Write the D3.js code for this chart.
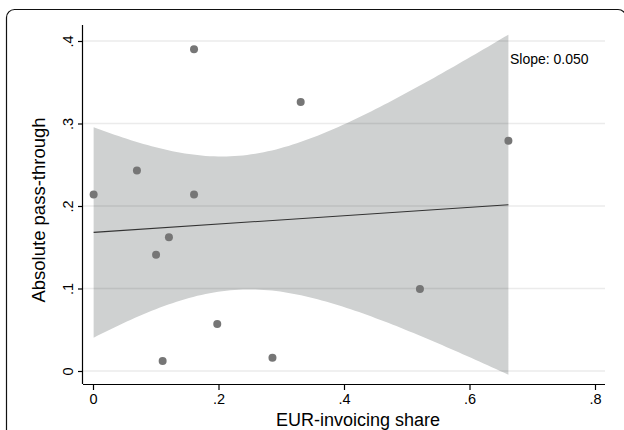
<!DOCTYPE html>
<html>
<head>
<meta charset="utf-8">
<script src="https://cdn.jsdelivr.net/npm/d3@7"></script>
<style>
  body { margin: 0; background: #fff; }
  svg { font-family: "Liberation Sans", Arial, sans-serif; }
</style>
</head>
<body>
<div id="chart"></div>
<script>
// EUR-invoicing share vs absolute pass-through, one point per observation
const eurShare = [0.001, 0.070, 0.161, 0.161, 0.331, 0.662, 0.121, 0.1005, 0.198, 0.111, 0.286, 0.521]
const passThrough = [0.214, 0.243, 0.390, 0.214, 0.326, 0.279, 0.162, 0.141, 0.057, 0.012, 0.016, 0.0995]

const xTicks = [0, 0.2, 0.4, 0.6, 0.8]
const yTicks = [0, 0.1, 0.2, 0.3, 0.4]
const xTickLabels = ['0', '.2', '.4', '.6', '.8']
const yTickLabels = ['0', '.1', '.2', '.3', '.4']

const xTitle = 'EUR-invoicing share'
const yTitle = 'Absolute pass-through'
const slopeLabel = 'Slope: 0.050'
const tCrit = 2.228 // t(0.975, df = 10)

const width = 624
const height = 430
const axeColor = '#000'
const gridColor = 'rgba(0,0,0,0.08)'
const bandColor = '#cfd1d1'
const pointColor = '#767676'

const plotLeft = 83
const plotRight = 605
const plotTop = 25
const plotBottom = 384

const svg = d3.select('#chart')
  .append('svg')
    .attr('width', width)
    .attr('height', height)

// outer frame (rounded, runs past the bottom/right edge)
svg.append('rect')
  .attr('x', 6.5)
  .attr('y', 9.5)
  .attr('width', 619.5)
  .attr('height', 470)
  .attr('rx', 8)
  .attr('fill', 'none')
  .attr('stroke', '#111')
  .attr('stroke-width', 1.2)

const x = d3.scaleLinear()
  .domain([0, 0.8])
  .range([93, 595])

const y = d3.scaleLinear()
  .domain([0, 0.4])
  .range([371, 41])

// linear fit + 95% CI of the mean
const n = eurShare.length
const xMean = d3.mean(eurShare)
const yMean = d3.mean(passThrough)
const sxx = d3.sum(eurShare, d => (d - xMean) ** 2)
const sxy = d3.sum(eurShare, (d, i) => (d - xMean) * (passThrough[i] - yMean))
const slope = sxy / sxx
const intercept = yMean - slope * xMean
const ssr = d3.sum(eurShare, (d, i) => (passThrough[i] - intercept - slope * d) ** 2)
const s = Math.sqrt(ssr / (n - 2))
const fit = v => intercept + slope * v
const halfWidth = v => tCrit * s * Math.sqrt(1 / n + (v - xMean) ** 2 / sxx)

const [xMin, xMax] = d3.extent(eurShare)
const bandX = d3.range(0, 101).map(i => xMin + (xMax - xMin) * i / 100)

svg.append('path')
  .datum(bandX)
  .attr('fill', bandColor)
  .attr('d', d3.area()
    .x(d => x(d))
    .y0(d => y(fit(d) - halfWidth(d)))
    .y1(d => y(fit(d) + halfWidth(d)))
  )

// gridlines
svg.append('g')
  .selectAll('line')
  .data(yTicks)
  .join('line')
    .attr('x1', plotLeft)
    .attr('x2', plotRight)
    .attr('y1', d => y(d))
    .attr('y2', d => y(d))
    .attr('stroke', gridColor)
    .attr('stroke-width', 1.5)

// fit line
svg.append('line')
  .attr('x1', x(xMin))
  .attr('x2', x(xMax))
  .attr('y1', y(fit(xMin)))
  .attr('y2', y(fit(xMax)))
  .attr('stroke', '#333')
  .attr('stroke-width', 1.1)

// points
svg.append('g')
  .selectAll('circle')
  .data(eurShare)
  .join('circle')
    .attr('cx', d => x(d))
    .attr('cy', (d, i) => y(passThrough[i]))
    .attr('r', 4)
    .attr('fill', pointColor)

// x axis
const xAxis = svg.append('g')
  .attr('transform', `translate(0,${plotBottom})`)
  .call(d3.axisBottom(x)
    .tickValues(xTicks)
    .tickFormat((d, i) => xTickLabels[i])
    .tickSize(6)
    .tickSizeOuter(0)
  )
xAxis.select('.domain')
  .attr('d', `M${plotLeft},0.5H${plotRight}`)
  .attr('stroke', axeColor)
  .attr('stroke-width', 1.2)
xAxis.selectAll('.tick line').attr('stroke', axeColor).attr('stroke-width', 1.2)
xAxis.selectAll('.tick text')
  .attr('fill', axeColor)
  .attr('font-size', 14.5)
  .attr('font-family', '"Liberation Sans", Arial, sans-serif')
  .attr('y', 19.5)
  .attr('dy', 0)

// y axis
const yAxis = svg.append('g')
  .attr('transform', `translate(${plotLeft},0)`)
  .call(d3.axisLeft(y)
    .tickValues(yTicks)
    .tickFormat((d, i) => yTickLabels[i])
    .tickSize(5)
    .tickSizeOuter(0)
  )
yAxis.select('.domain')
  .attr('d', `M-0.5,${plotTop}V${plotBottom}`)
  .attr('stroke', axeColor)
  .attr('stroke-width', 1.2)
yAxis.selectAll('.tick line').attr('stroke', axeColor).attr('stroke-width', 1.2)
yAxis.selectAll('.tick text')
  .attr('fill', axeColor)
  .attr('font-size', 14.5)
  .attr('font-family', '"Liberation Sans", Arial, sans-serif')
  .attr('x', null)
  .attr('dy', 0)
  .attr('text-anchor', 'middle')
  .attr('transform', 'translate(-10.5,0) rotate(-90)')

// titles
svg.append('text')
  .attr('x', 358)
  .attr('y', 426)
  .attr('text-anchor', 'middle')
  .attr('font-size', 18)
  .text(xTitle)

svg.append('text')
  .attr('transform', 'translate(45,210) rotate(-90)')
  .attr('text-anchor', 'middle')
  .attr('font-size', 18.5)
  .text(yTitle)

svg.append('text')
  .attr('x', 510)
  .attr('y', 64)
  .attr('font-size', 14)
  .text(slopeLabel)
</script>
</body>
</html>
